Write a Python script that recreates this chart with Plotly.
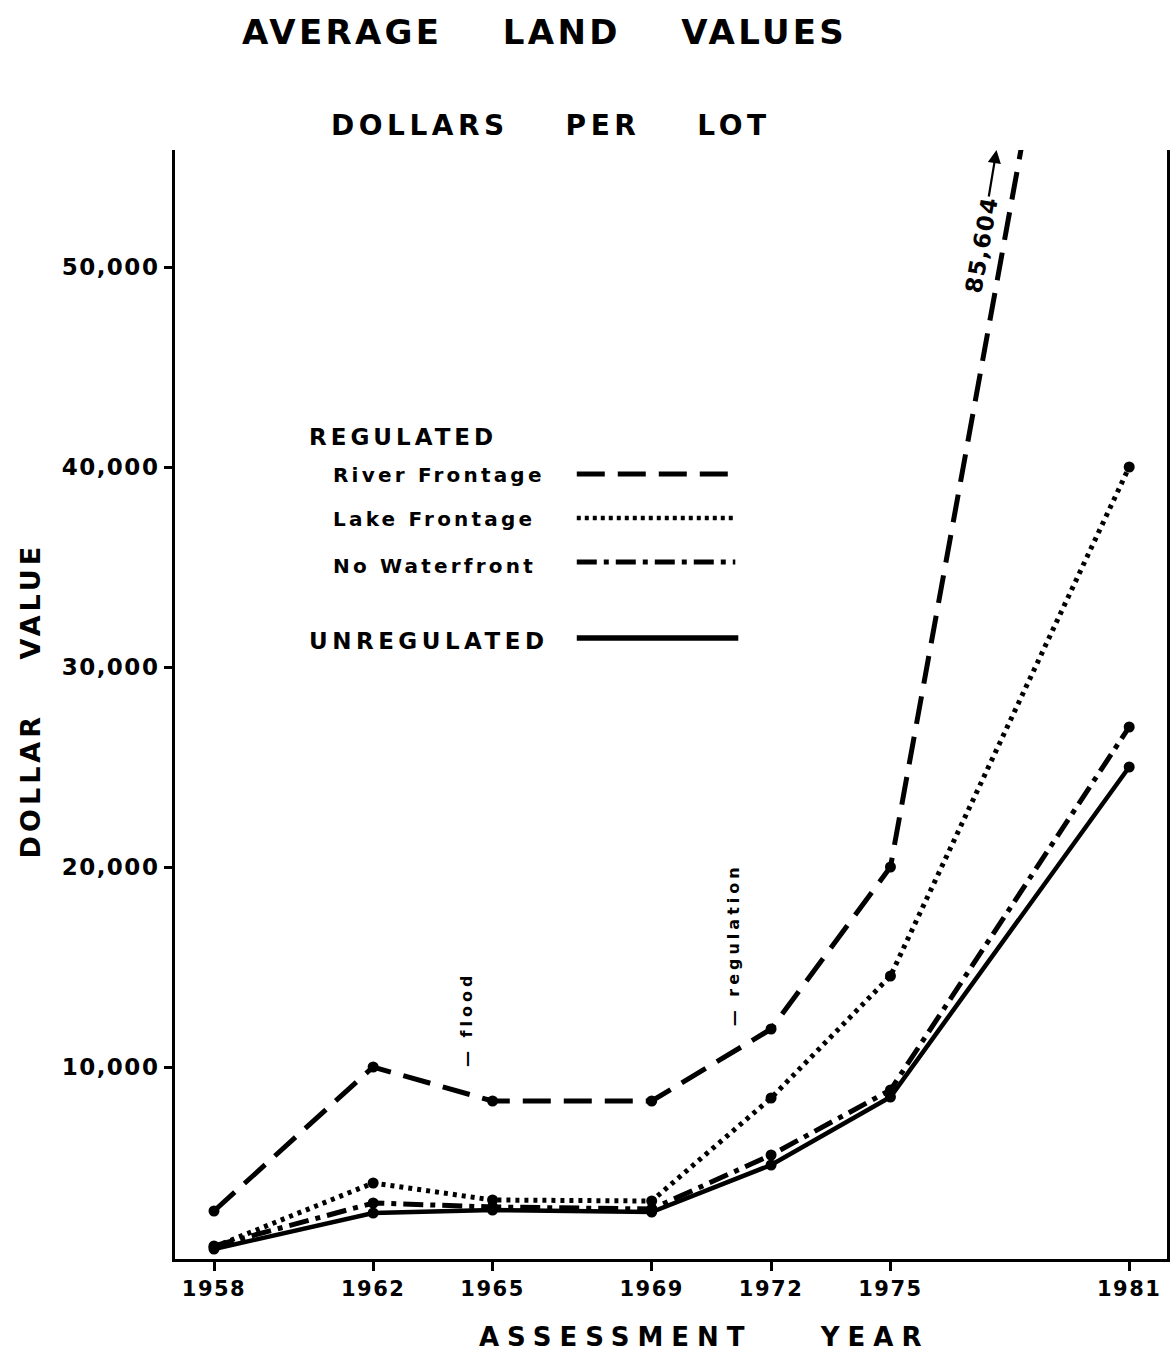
import plotly.graph_objects as go

years = [1958, 1962, 1965, 1969, 1972, 1975, 1981]
river_frontage = [2800, 10000, 8300, 8300, 11900, 20000, 85604]
lake_frontage = [1000, 4200, 3350, 3300, 8450, 14550, 40000]
no_waterfront = [1050, 3200, 3000, 2900, 5600, 8850, 27000]
unregulated = [900, 2700, 2850, 2750, 5100, 8500, 25000]

y_ticks = [10000, 20000, 30000, 40000, 50000]
y_ticktext = ["10,000", "20,000", "30,000", "40,000", "50,000"]

FONT = "DejaVu Sans"
W, H = 1176, 1355
L, R, T, B = 175, 6, 150, 96
PW, PH = W - L - R, H - T - B


def px(x):
    return (x - L) / PW


def py(y):
    return (H - B - y) / PH


def sp(text, ls):
    return f'<span style="letter-spacing:{ls}px">{text}</span>'


NB = "\u00a0"

series = [
    ("River Frontage", river_frontage, "28px,13px", 5),
    ("Lake Frontage", lake_frontage, "4px,5px", 5),
    ("No Waterfront", no_waterfront, "20px,7px,5px,7px", 5),
    ("Unregulated", unregulated, "solid", 4.5),
]

fig = go.Figure()
for name, vals, dash, w in series:
    fig.add_trace(go.Scatter(
        x=years, y=vals, name=name, mode="lines+markers",
        line=dict(color="black", width=w, dash=dash),
        marker=dict(color="black", size=11),
        cliponaxis=True, showlegend=False,
    ))

ann = []
# Titles
ann.append(dict(text=sp("AVERAGE" + NB * 4 + "LAND" + NB * 4 + "VALUES", 3.3), x=px(546), y=py(32),
                font=dict(size=34)))
ann.append(dict(text=sp("DOLLARS" + NB * 4 + "PER" + NB * 4 + "LOT", 4.5), x=px(552), y=py(125),
                font=dict(size=28)))
ann.append(dict(text=sp("ASSESSMENT" + NB * 4 + "YEAR", 8), x=px(706), y=py(1337),
                font=dict(size=26)))
ann.append(dict(text=sp("DOLLAR" + NB * 4 + "VALUE", 4), x=px(30), y=py(700),
                font=dict(size=27), textangle=-90))
# Legend texts
ann.append(dict(text=sp("REGULATED", 4), x=px(307), y=py(437), xanchor="left", font=dict(size=23)))
ann.append(dict(text=sp("River Frontage", 3.2), x=px(331), y=py(475), xanchor="left", font=dict(size=20)))
ann.append(dict(text=sp("Lake Frontage", 3.2), x=px(331), y=py(519), xanchor="left", font=dict(size=20)))
ann.append(dict(text=sp("No Waterfront", 3.2), x=px(331), y=py(566), xanchor="left", font=dict(size=20)))
ann.append(dict(text=sp("UNREGULATED", 4.5), x=px(307), y=py(641), xanchor="left", font=dict(size=23)))
# Event notes
ann.append(dict(text=sp("\u2014 flood", 4), x=px(467), y=py(1020), textangle=-90, font=dict(size=16)))
ann.append(dict(text=sp("\u2014 regulation", 4), x=px(735), y=py(945), textangle=-90, font=dict(size=16)))
ann.append(dict(text=sp("85,604", 1.5), x=px(984), y=py(245), textangle=-80, font=dict(size=23)))

for a in ann:
    a.setdefault("xanchor", "center")
    a.update(xref="paper", yref="paper", showarrow=False, yanchor="middle")
    a["font"].update(family=FONT, color="black", weight="bold")
    fig.add_annotation(**a)

# arrow for 85,604
fig.add_annotation(x=px(999), y=py(150), xref="paper", yref="paper", text="",
                   showarrow=True, ax=-8, ay=48, arrowhead=2, arrowsize=1.2,
                   arrowwidth=2.2, arrowcolor="black")

# legend sample lines
legend_lines = [
    (578, 738, 474, "28px,13px", 5),
    (578, 735, 518, "4px,4px", 4.5),
    (578, 737, 562, "20px,7px,5px,7px", 5),
    (578, 740, 638, "solid", 5.5),
]
for x0, x1, yy, dash, w in legend_lines:
    fig.add_shape(type="line", xref="paper", yref="paper", x0=px(x0), x1=px(x1),
                  y0=py(yy), y1=py(yy), line=dict(color="black", width=w, dash=dash))

fig.update_layout(
    width=W, height=H,
    margin=dict(l=L, r=R, t=T, b=B, pad=0),
    paper_bgcolor="white", plot_bgcolor="white",
    font=dict(family=FONT, color="black", weight="bold"),
    xaxis=dict(
        range=[1957.02, 1981.95], tickvals=years,
        ticktext=[sp(str(y), 1.5) for y in years],
        showgrid=False, zeroline=False,
        showline=True, linecolor="black", linewidth=3,
        ticks="outside", ticklen=9, tickwidth=3, tickcolor="black",
        tickfont=dict(family=FONT, size=21, color="black", weight="bold"),
    ),
    yaxis=dict(
        range=[400, 55850], tickvals=y_ticks, ticktext=[sp(t, 1.5) for t in y_ticktext],
        showgrid=False, zeroline=False,
        showline=True, linecolor="black", linewidth=3, mirror=True,
        ticks="outside", ticklen=8, tickwidth=3, tickcolor="black",
        tickfont=dict(family=FONT, size=23, color="black", weight="bold"),
    ),
)

fig.write_html("out.html", config={"displayModeBar": False},
               post_script="document.body.style.margin='0';document.body.style.overflow='hidden';")
